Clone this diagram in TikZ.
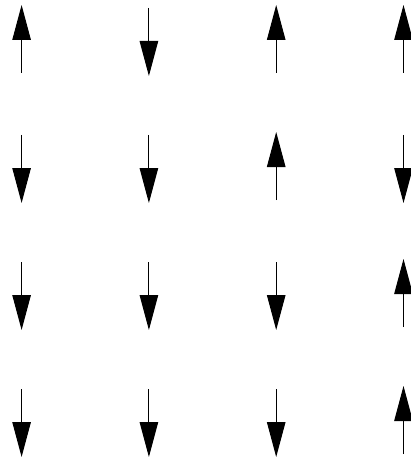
\documentclass[tikz,border=0pt]{standalone}
\usetikzlibrary{arrows.meta}
\begin{document}
\begin{tikzpicture}[x=1pt,y=-1pt,
  spin/.style={line width=1pt,-{Triangle[length=35pt,width=18.5pt]}}]
\useasboundingbox (0,0) rectangle (410,457);
% rows: 1 = up, 0 = down
\foreach \r/\list in {0/{1,0,1,1},1/{0,0,1,0},2/{0,0,0,1},3/{0,0,0,1}}{
  \foreach \s [count=\c from 0] in \list {
    \pgfmathsetmacro{\xx}{21.6+127.3*\c}
    \pgfmathsetmacro{\yy}{127*\r}
    \ifnum\s=1
      \draw[spin] (\xx,\yy+73) -- (\xx,\yy+5);
    \else
      \draw[spin] (\xx,\yy+8) -- (\xx,\yy+76);
    \fi
  }
}
\end{tikzpicture}
\end{document}
